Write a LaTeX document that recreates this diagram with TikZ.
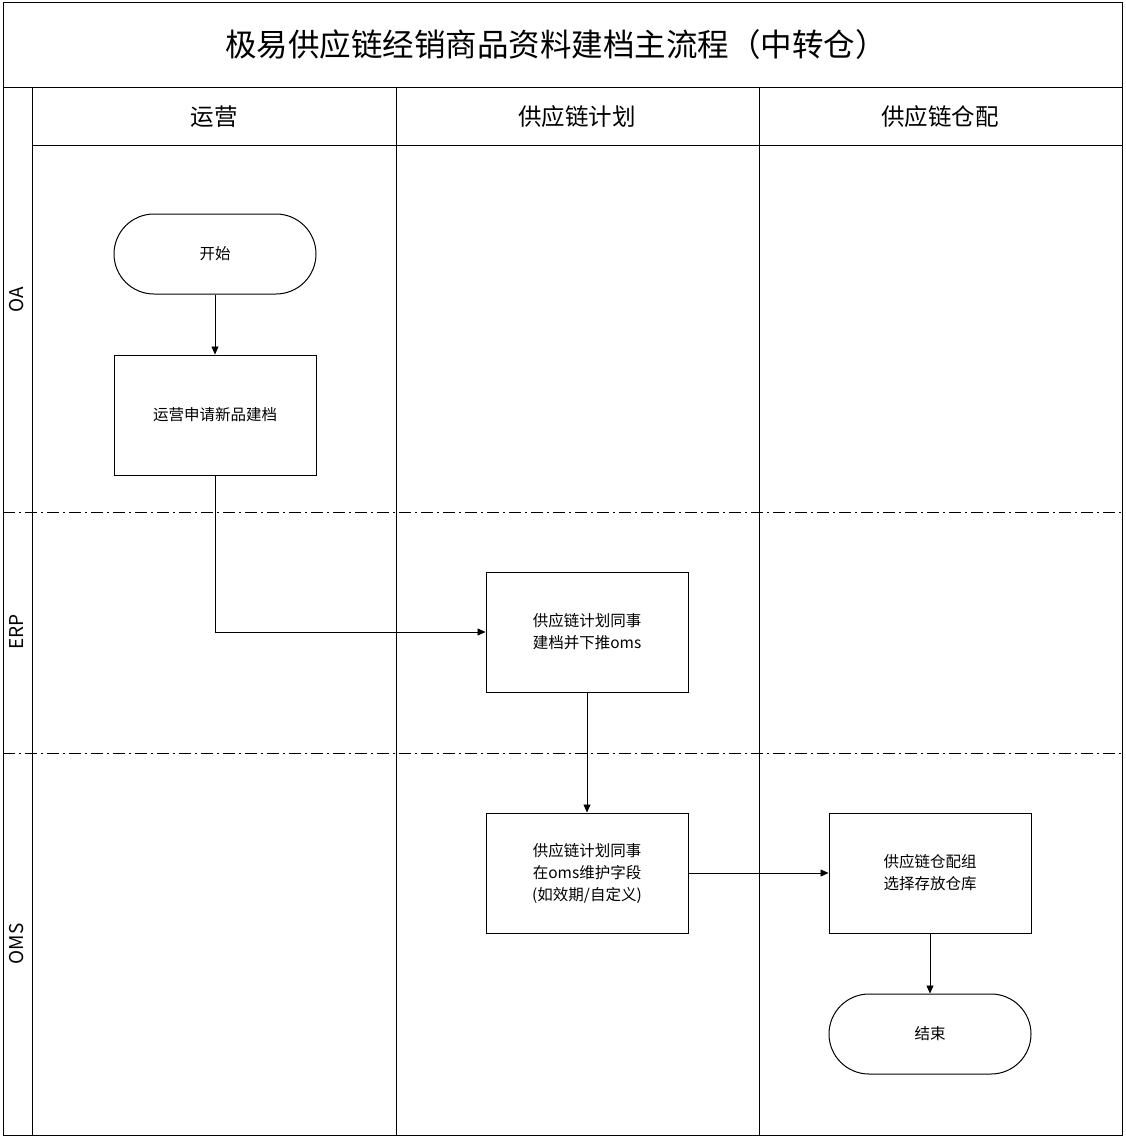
\documentclass[tikz,border=0pt]{standalone}
\usepackage{fontspec}
\setmainfont{Noto Sans CJK SC}
\usetikzlibrary{arrows.meta}
\begin{document}
\begin{tikzpicture}[x=1pt,y=-1pt,
  frame/.style={draw=black,line width=1pt},
  box/.style={draw=black,line width=1pt,minimum width=202pt,minimum height=120pt,align=center,font=\fontsize{15.5}{22}\selectfont,inner sep=0pt},
  term/.style={draw=black,line width=1pt,rounded corners=40pt,minimum width=202pt,minimum height=80pt,font=\fontsize{15.5}{22}\selectfont,inner sep=0pt},
  arr/.style={-{Triangle[length=8pt,width=7pt]},line width=0.6pt},
  lane/.style={rotate=90,font=\fontsize{19}{21}\selectfont},
  head/.style={font=\fontsize{23.5}{26}\selectfont},
  sep/.style={line width=1pt,dash pattern=on 12pt off 4pt on 2pt off 4pt}]
\useasboundingbox (0,0) rectangle (1125,1137);
\fill[white] (0,0) rectangle (1125,1137);
\draw[frame] (3,3) rectangle (1122,1135);
\draw[frame] (3,88) -- (1122,88);
\draw[frame] (32,88) -- (32,1135);
\draw[frame] (32,145) -- (1122,145);
\draw[frame] (396,88) -- (396,1135);
\draw[frame] (759,88) -- (759,1135);
\draw[sep] (3,512) -- (1122,512);
\draw[sep] (3,753) -- (1122,753);
\node[font=\fontsize{31.5}{34}\selectfont] (title) at (556,45) {极易供应链经销商品资料建档主流程（中转仓）};
\node[head] (h1) at (214,117) {运营};
\node[head] (h2) at (577,117) {供应链计划};
\node[head] (h3) at (940,117) {供应链仓配};
\node[lane] (l1) at (17,300) {OA};
\node[lane] (l2) at (17,632) {ERP};
\node[lane] (l3) at (17,944) {OMS};
\node[term] (start) at (215,254) {开始};
\node[box] (b1) at (215,415) {运营申请新品建档};
\node[box] (b2) at (587,632) {供应链计划同事\\建档并下推oms};
\node[box] (b3) at (587,873) {供应链计划同事\\在oms维护字段\\(如效期/自定义)};
\node[box] (b4) at (930,873) {供应链仓配组\\选择存放仓库};
\node[term] (end) at (930,1034) {结束};
\draw[arr] (start) -- (b1);
\draw[arr] (b1.south) |- (b2.west);
\draw[arr] (b2) -- (b3);
\draw[arr] (b3) -- (b4);
\draw[arr] (b4) -- (end);
\end{tikzpicture}
\end{document}
